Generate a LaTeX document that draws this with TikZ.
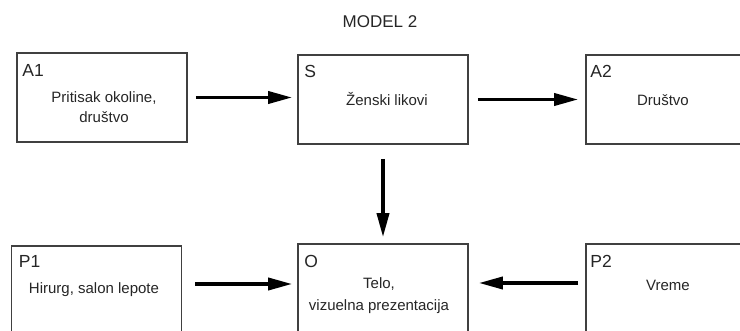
\documentclass[tikz,border=0pt]{standalone}
\usepackage{fontspec}
\setmainfont{Liberation Sans}
\usetikzlibrary{arrows.meta}
\begin{document}
\begin{tikzpicture}[x=1pt,y=-1pt,
  box/.style={draw=black!75, line width=1.6pt, minimum width=170pt, minimum height=89pt, inner sep=0pt},
  tag/.style={anchor=west, inner sep=0pt, font=\fontsize{17.5}{20}\selectfont, text=black!85},
  body/.style={align=center, inner sep=0pt, font=\fontsize{15}{20}\selectfont, text=black!85},
  flow/.style={line width=3.6pt, -{Triangle[length=24pt,width=12pt]}}]
  \clip (0,0) rectangle (740,331);
  \fill[white] (0,0) rectangle (740,331);

  % title
  \node[inner sep=0pt, font=\fontsize{17}{20}\selectfont, text=black!85] (title) at (380,22) {MODEL 2};

  % upper row
  \node[box] (A1) at (102,97.5) {};
  \node[box] (S)  at (383,99.5) {};
  \node[box] (A2) at (671,99.5) {};
  % lower row (runs below the lower edge)
  \node[box] (P1) at (96.5,290.5) {};
  \node[box] (O)  at (383,288.5) {};
  \node[box] (P2) at (671,288.5) {};

  % corner tags
  \node[tag] (tA1) at ([xshift=6pt,yshift=-18pt]A1.north west) {A1};
  \node[tag] (tS)  at ([xshift=7pt,yshift=-17pt]S.north west) {S};
  \node[tag] (tA2) at ([xshift=5pt,yshift=-17pt]A2.north west) {A2};
  \node[tag] (tP1) at ([xshift=8pt,yshift=-16pt]P1.north west) {P1};
  \node[tag] (tO)  at ([xshift=7pt,yshift=-18pt]O.north west) {O};
  \node[tag] (tP2) at ([xshift=5pt,yshift=-18pt]P2.north west) {P2};

  % box contents
  \node[body] (xA1) at (104,107) {Pritisak okoline,\\društvo};
  \node[body] (xS)  at (387,99) {Ženski likovi};
  \node[body] (xA2) at (663,100) {Društvo};
  \node[body] (xP1) at (94,290) {Hirurg, salon lepote};
  \node[body, font=\fontsize{15}{22}\selectfont] (xO) at (379,296) {Telo,\\vizuelna prezentacija};
  \node[body] (xP2) at (668,285) {Vreme};

  % connectors
  \draw[flow, shorten <=8pt, shorten >=5pt] (A1.east) -- (A1.east -| S.west);
  \draw[flow, shorten <=9pt, shorten >=7pt] (S.east) -- (S.east -| A2.west);
  \draw[flow, shorten <=14pt, shorten >=6pt] (S.south) -- (O.north);
  \draw[flow, shorten <=13pt, shorten >=5pt] ([yshift=6.5pt]P1.east) -- ([yshift=6.5pt]P1.east -| O.west);
  \draw[flow, shorten <=7pt, shorten >=10pt] ([yshift=5.5pt]P2.west) -- ([yshift=5.5pt]P2.west -| O.east);
\end{tikzpicture}
\end{document}
